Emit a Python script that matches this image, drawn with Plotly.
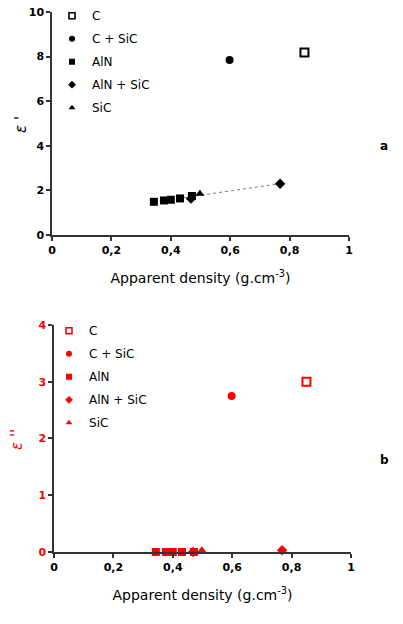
import numpy as np
import plotly.graph_objects as go

# ---- data ----
c_x = [0.85]
c_eps1 = [8.18]
c_eps2 = [3.0]

csic_x = [0.598]
csic_eps1 = [7.85]
csic_eps2 = [2.75]

aln_x = [0.343, 0.377, 0.400, 0.431, 0.471]
aln_eps1 = [1.49, 1.55, 1.58, 1.64, 1.75]
aln_eps2 = [0.0, 0.0, 0.0, 0.0, 0.0]

alnsic_x = [0.468, 0.768]
alnsic_eps1 = [1.63, 2.30]
alnsic_eps2 = [0.0, 0.03]

sic_x = [0.498]
sic_eps1 = [1.85]
sic_eps2 = [0.03]

x_ticks = [0, 0.2, 0.4, 0.6, 0.8, 1]
x_tick_labels = ["0", "0,2", "0,4", "0,6", "0,8", "1"]

RED = "#ff0000"
BLACK = "#000000"
FONT = "DejaVu Sans"

fig = go.Figure()

def add_series(xa, ya, legend, color, xs, ys, name, symbol, size, lw=0):
    fig.add_trace(go.Scatter(
        x=xs, y=ys, mode="markers", name=name, xaxis=xa, yaxis=ya,
        showlegend=False, cliponaxis=False,
        marker=dict(symbol=symbol, size=size, color=color,
                    line=dict(width=lw, color=color)),
    ))
    # legend-only entry with a smaller symbol
    fig.add_trace(go.Scatter(
        x=[None], y=[None], mode="markers", name=name, xaxis=xa, yaxis=ya,
        legend=legend, legendgroup=legend + name,
        marker=dict(symbol=symbol, size=max(size - 2, 5), color=color,
                    line=dict(width=lw * 0.8, color=color)),
    ))

# trend line (linear fit of the low-density points) on top panel
fit_x = aln_x + alnsic_x + sic_x
fit_y = aln_eps1 + alnsic_eps1 + sic_eps1
p = np.polyfit(fit_x, fit_y, 1)
tx = np.array([min(fit_x), max(fit_x)])
fig.add_trace(go.Scatter(x=tx, y=np.polyval(p, tx), mode="lines", xaxis="x", yaxis="y",
                         line=dict(color="#777777", width=1, dash="dot"),
                         showlegend=False, hoverinfo="skip"))

for (xa, ya, leg, col, ys) in [("x", "y", "legend", BLACK, (c_eps1, csic_eps1, aln_eps1, alnsic_eps1, sic_eps1)),
                                ("x2", "y2", "legend2", RED, (c_eps2, csic_eps2, aln_eps2, alnsic_eps2, sic_eps2))]:
    add_series(xa, ya, leg, col, c_x, ys[0], "C", "square-open", 8, 2)
    add_series(xa, ya, leg, col, csic_x, ys[1], "C + SiC", "circle", 8)
    add_series(xa, ya, leg, col, aln_x, ys[2], "AlN", "square", 8)
    add_series(xa, ya, leg, col, alnsic_x, ys[3], "AlN + SiC", "diamond", 8)
    add_series(xa, ya, leg, col, sic_x, ys[4], "SiC", "triangle-up", 8)

axis_common = dict(showgrid=False, zeroline=False, showline=True, linecolor="#333333",
                   linewidth=1.5, ticks="outside", ticklen=4, tickcolor="#333333",
                   tickwidth=1.5)

xaxis_common = dict(axis_common, range=[0, 1], tickvals=x_ticks, ticktext=x_tick_labels,
                    tickfont=dict(family=FONT, size=11, color=BLACK, weight="bold"),
                    title=dict(text="Apparent density (g.cm<sup>-3</sup>)",
                               font=dict(family=FONT, size=14, color=BLACK), standoff=17))

fig.update_layout(
    width=403, height=624,
    margin=dict(l=52, r=52, t=12, b=72, autoexpand=False),
    paper_bgcolor="white", plot_bgcolor="white",
    showlegend=True,
    xaxis=dict(xaxis_common, domain=[0, 297 / 299], anchor="y"),
    yaxis=dict(axis_common, domain=[0.587, 1], range=[0, 10], tickvals=[0, 2, 4, 6, 8, 10],
               tickfont=dict(family=FONT, size=11, color=BLACK, weight="bold"), anchor="x"),
    xaxis2=dict(xaxis_common, domain=[2 / 299, 1], anchor="y2"),
    yaxis2=dict(axis_common, domain=[0, 0.4204], range=[0, 4], tickvals=[0, 1, 2, 3, 4],
                tickfont=dict(family=FONT, size=11, color=RED, weight="bold"), anchor="x2"),
    legend=dict(x=0.0, y=1.020, xanchor="left", yanchor="top", bgcolor="rgba(0,0,0,0)",
                font=dict(family=FONT, size=12, color=BLACK), itemwidth=30,
                traceorder="grouped", tracegroupgap=4, itemclick=False),
    legend2=dict(x=-0.01, y=0.4365, xanchor="left", yanchor="top", bgcolor="rgba(0,0,0,0)",
                 font=dict(family=FONT, size=12, color=BLACK), itemwidth=30,
                 traceorder="grouped", tracegroupgap=4, itemclick=False),
    annotations=[
        dict(text="<i>ε '</i>", x=21, y=125, showarrow=False, textangle=-90,
             font=dict(family=FONT, size=15, color=BLACK)),
        dict(text="<i>ε ''</i>", x=17, y=440, showarrow=False, textangle=-90,
             font=dict(family=FONT, size=15, color=RED)),
        dict(text="<b>a</b>", x=384, y=146, showarrow=False,
             font=dict(family=FONT, size=12, color=BLACK)),
        dict(text="<b>b</b>", x=384, y=460, showarrow=False,
             font=dict(family=FONT, size=12, color=BLACK)),
    ],
)

# convert pixel positions of annotations to paper coords
W, H = 403, 624
l, r, t, b = 52, 52, 12, 72
pw, ph = W - l - r, H - t - b
new_ann = []
for a in fig.layout.annotations:
    a.xref = "paper"
    a.yref = "paper"
    a.x = (a.x - l) / pw
    a.y = (H - b - a.y) / ph
    a.xanchor = "center"
    a.yanchor = "middle"
    new_ann.append(a)
fig.layout.annotations = new_ann

fig.write_html("out.html")
